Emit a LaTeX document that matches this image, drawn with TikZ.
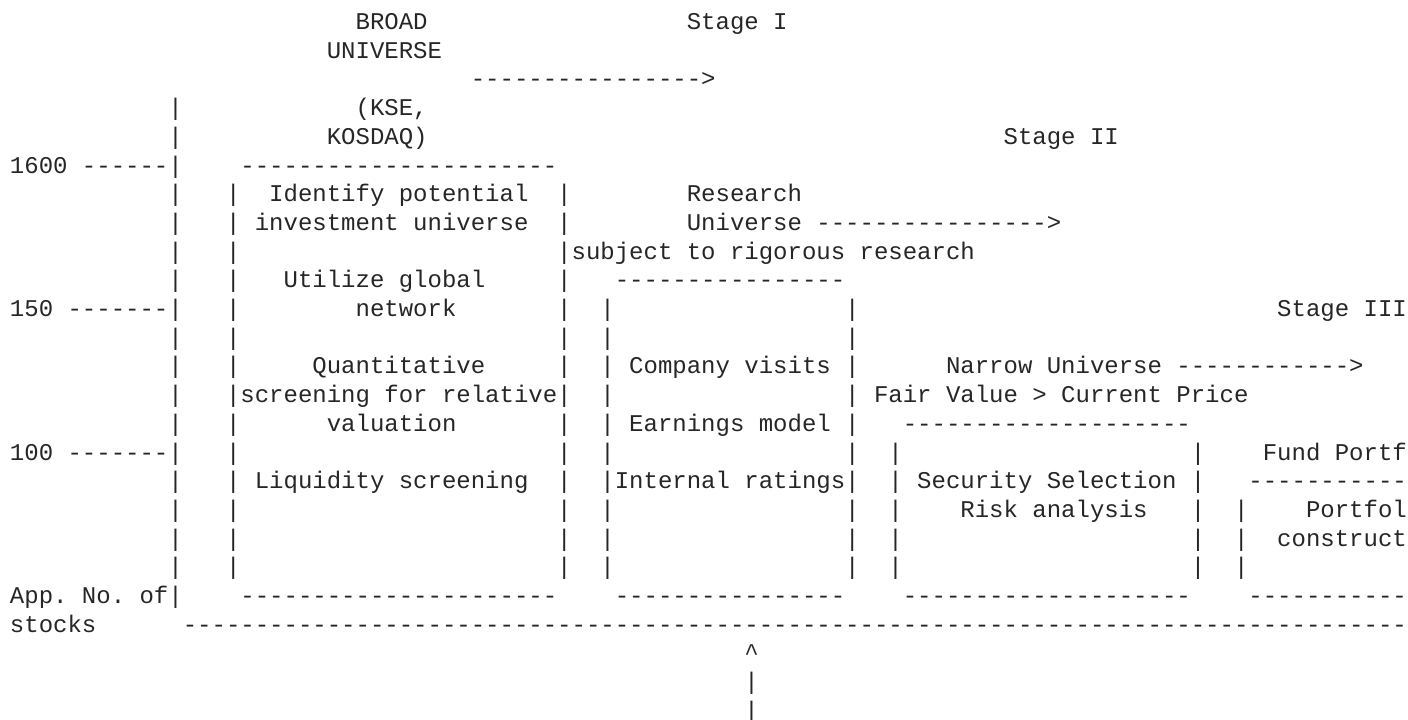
\documentclass[tikz,border=0pt]{standalone}
\usepackage{fontspec}
\setmonofont{Liberation Mono}

\newcommand{\asciifont}{\ttfamily\fontsize{12pt}{14pt}\selectfont\frenchspacing}
\tikzset{
  txt/.style={anchor=base west, inner sep=0pt, outer sep=0pt, font=\asciifont, text=black!85},
}

\begin{document}
\begin{tikzpicture}[x=7.2pt,y=-14.35pt]
  \useasboundingbox (0pt,0pt) rectangle (704pt,-359.5pt);
  \begin{scope}[shift={(5pt,-0.4pt)}]
       % stage labels and arrows
       \node[txt] (broad) at (24,1) {BROAD};
       \node[txt] (stageI) at (47,1) {Stage I};
       \node[txt] (broaduniv) at (22,2) {UNIVERSE};
       \node[txt] (arrowI) at (32,3) {---------------->};
       \node[txt] (kse) at (24,4) {(KSE,};
       \node[txt] (kosdaq) at (22,5) {KOSDAQ)};
       \node[txt] (stageII) at (69,5) {Stage II};
       \node[txt] (stageIII) at (88,11) {Stage III};

       % y axis
       \node[txt] (y1600) at (0,6) {1600 ------|};
       \node[txt] (y150) at (0,11) {150 -------|};
       \node[txt] (y100) at (0,16) {100 -------|};
       \node[txt] (appno) at (0,21) {App. No. of|};
       \node[txt] (stocks) at (0,22) {stocks};
       \foreach \r in {4,5,7,8,9,10,12,13,14,15,17,18,19,20}
         \node[txt] (wa\r) at (11,\r) {|};

       % box 1
       \node[txt] (topI) at (16,6) {----------------------};
       \node[txt] (botI) at (16,21) {----------------------};
       \foreach \r in {7,...,20} {
         \node[txt] (wb\r) at (15,\r) {|};
         \node[txt] (wc\r) at (38,\r) {|};
       }
       \node[txt] (identify) at (18,7) {Identify potential};
       \node[txt] (invuniv) at (17,8) {investment universe};
       \node[txt] (utilize) at (19,10) {Utilize global};
       \node[txt] (network) at (24,11) {network};
       \node[txt] (quant) at (21,13) {Quantitative};
       \node[txt] (screening) at (16,14) {screening for relative};
       \node[txt] (valuation) at (22,15) {valuation};
       \node[txt] (liquidity) at (17,17) {Liquidity screening};

       % box 2
       \node[txt] (research) at (47,7) {Research};
       \node[txt] (resuniv) at (47,8) {Universe ---------------->};
       \node[txt] (subject) at (39,9) {subject to rigorous research};
       \node[txt] (topII) at (42,10) {----------------};
       \node[txt] (botII) at (42,21) {----------------};
       \foreach \r in {11,...,20} {
         \node[txt] (wd\r) at (41,\r) {|};
         \node[txt] (we\r) at (58,\r) {|};
       }
       \node[txt] (visits) at (43,13) {Company visits};
       \node[txt] (earnings) at (43,15) {Earnings model};
       \node[txt] (ratings) at (42,17) {Internal ratings};

       % box 3
       \node[txt] (narrow) at (65,13) {Narrow Universe ------------>};
       \node[txt] (fairvalue) at (60,14) {Fair Value > Current Price};
       \node[txt] (topIII) at (62,15) {--------------------};
       \node[txt] (botIII) at (62,21) {--------------------};
       \foreach \r in {16,...,20} {
         \node[txt] (wf\r) at (61,\r) {|};
         \node[txt] (wg\r) at (82,\r) {|};
       }
       \node[txt] (selection) at (63,17) {Security Selection};
       \node[txt] (risk) at (66,18) {Risk analysis};

       % box 4
       \node[txt] (fund) at (87,16) {Fund Portf};
       \node[txt] (topIV) at (86,17) {-----------};
       \node[txt] (botIV) at (86,21) {-----------};
       \foreach \r in {18,19,20}
         \node[txt] (wh\r) at (85,\r) {|};
       \node[txt] (portfol) at (90,18) {Portfol};
       \node[txt] (construct) at (88,19) {construct};

       % x axis and pointer
       \node[txt] (xaxis) at (12,22) {-------------------------------------------------------------------------------------};
       \node[txt] (caret) at (51,23) {\textasciicircum};
       \foreach \r in {24,25}
         \node[txt] (wp\r) at (51,\r) {|};
  \end{scope}
\end{tikzpicture}
\end{document}
